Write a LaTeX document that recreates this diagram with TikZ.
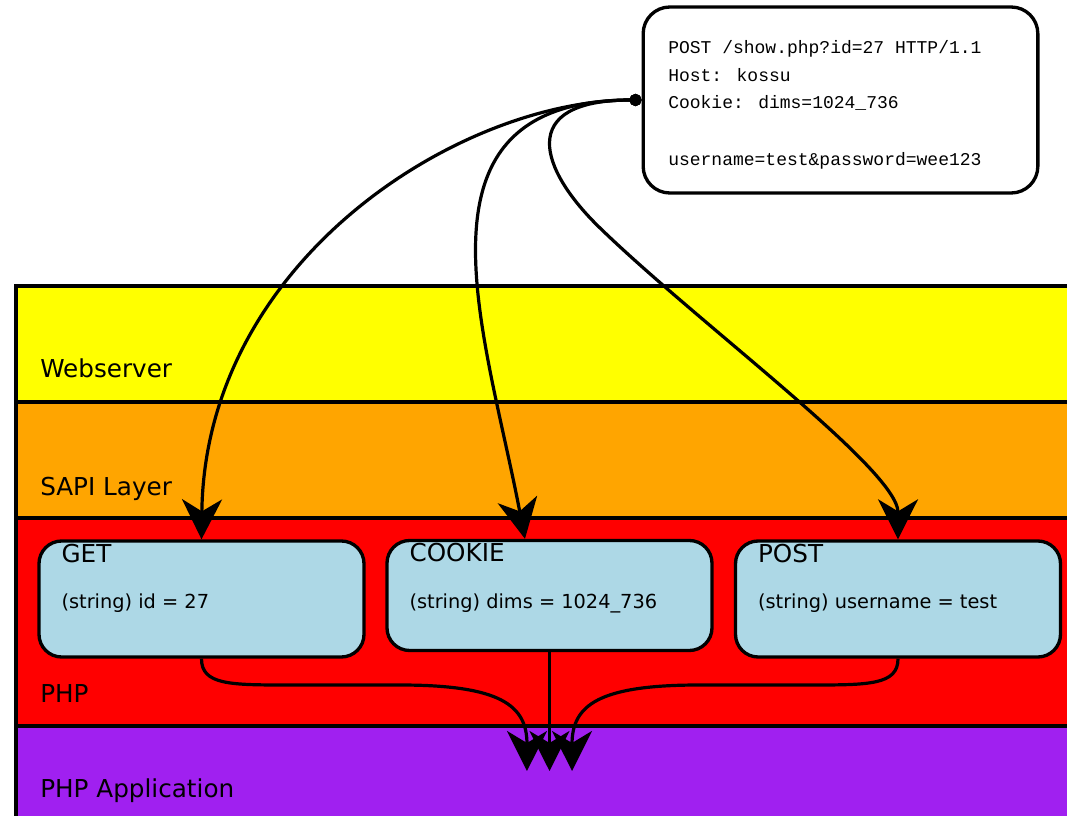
\documentclass[tikz,border=0pt]{standalone}
\usepackage{fontspec}
\setmainfont{DejaVu Sans}
\newfontfamily\reqmono{Liberation Mono}
\usetikzlibrary{arrows.meta}
\definecolor{webyellow}{RGB}{255,255,0}
\definecolor{sapiorange}{RGB}{255,165,0}
\definecolor{phpred}{RGB}{255,0,0}
\definecolor{apppurple}{RGB}{160,32,240}
\definecolor{varblue}{RGB}{173,216,230}
\tikzset{
  layerlabel/.style={anchor=base west,inner sep=0,font=\fontsize{18.5}{22}\selectfont},
  vartitle/.style={anchor=base west,inner sep=0,font=\fontsize{18.5}{22}\selectfont},
  varline/.style={anchor=base west,inner sep=0,font=\fontsize{14.5}{17}\selectfont},
  reqline/.style={anchor=base west,inner sep=0,font=\reqmono\fontsize{13.5}{16}\selectfont},
  varbox/.style={draw,fill=varblue,line width=2.5pt,rounded corners=17pt,minimum width=243.75pt,minimum height=87pt},
  reqbox/.style={draw,fill=white,line width=2.5pt,rounded corners=20pt,minimum width=296pt,minimum height=139.5pt},
  flow/.style={line width=2.4pt,-{Stealth[length=30pt,width=30pt,inset=9pt]}},
  reqflow/.style={line width=2.4pt,{Circle[length=9pt]}-{Stealth[length=30pt,width=30pt,inset=9pt]}},
}
\begin{document}
\begin{tikzpicture}[x=0.75pt,y=-0.75pt]
\useasboundingbox (0,0) rectangle (1067,816);
\clip (0,0) rectangle (1067,816);
\foreach \ytop/\ybot/\col in {286/402/webyellow,402/518/sapiorange,518/726/phpred,726/840/apppurple}
  \draw[line width=2.5pt,fill=\col] (16,\ytop) rectangle (1100,\ybot);
\node[layerlabel] (web) at (40,378) {Webserver};
\node[layerlabel] (sapi) at (40,495) {SAPI Layer};
\node[layerlabel] (php) at (40,702) {PHP};
\node[layerlabel] (app) at (40,797) {PHP Application};

\node[reqbox] (req) at (840.5,100) {};
\node[reqline] (req1) at (668,54) {POST /show.php?id=27 HTTP/1.1};
\node[reqline] (req2) at (668,82) {Host: kossu};
\node[reqline] (req3) at (668,109) {Cookie: dims=1024\_736};
\node[reqline] (req4) at (668,166) {username=test\&password=wee123};

\node[varbox] (get) at (201.5,599) {};
\node[varbox,minimum height=82.5pt] (cookie) at (549.5,595.5) {};
\node[varbox] (post) at (898,599) {};
\node[vartitle] (gettitle) at ([xshift=18pt,yshift=-17.25pt]get.north west) {GET};
\node[varline] (getvar) at ([xshift=18pt,yshift=-52pt]get.north west) {(string) id = 27};
\node[vartitle] (cookietitle) at ([xshift=18pt,yshift=-17.25pt]cookie.north west) {COOKIE};
\node[varline] (cookievar) at ([xshift=18pt,yshift=-52pt]cookie.north west) {(string) dims = 1024\_736};
\node[vartitle] (posttitle) at ([xshift=18pt,yshift=-17.25pt]post.north west) {POST};
\node[varline] (postvar) at ([xshift=18pt,yshift=-52pt]post.north west) {(string) username = test};

\draw[reqflow] (req.west) .. controls (460,100) and (205,260) .. (get.north);
\draw[reqflow] (req.west) .. controls (400,100) and (485,330) .. ([xshift=-18.4pt]cookie.north);
\draw[reqflow] (req.west) .. controls (515,100) and (540,170) .. (600,228) .. controls (700,325) and (898,470) .. (post.north);

\coordinate (appin) at (549.5,771);
\draw[flow] (get.south) .. controls (201.5,685) and (230,685) .. (290,685) -- (400,685) .. controls (500,685) and (527,705) .. ([xshift=-16.9pt]appin);
\draw[flow] (cookie.south) -- (appin);
\draw[flow] (post.south) .. controls (898,685) and (869,685) .. (809,685) -- (699,685) .. controls (599,685) and (572,705) .. ([xshift=16.9pt]appin);
\end{tikzpicture}
\end{document}
